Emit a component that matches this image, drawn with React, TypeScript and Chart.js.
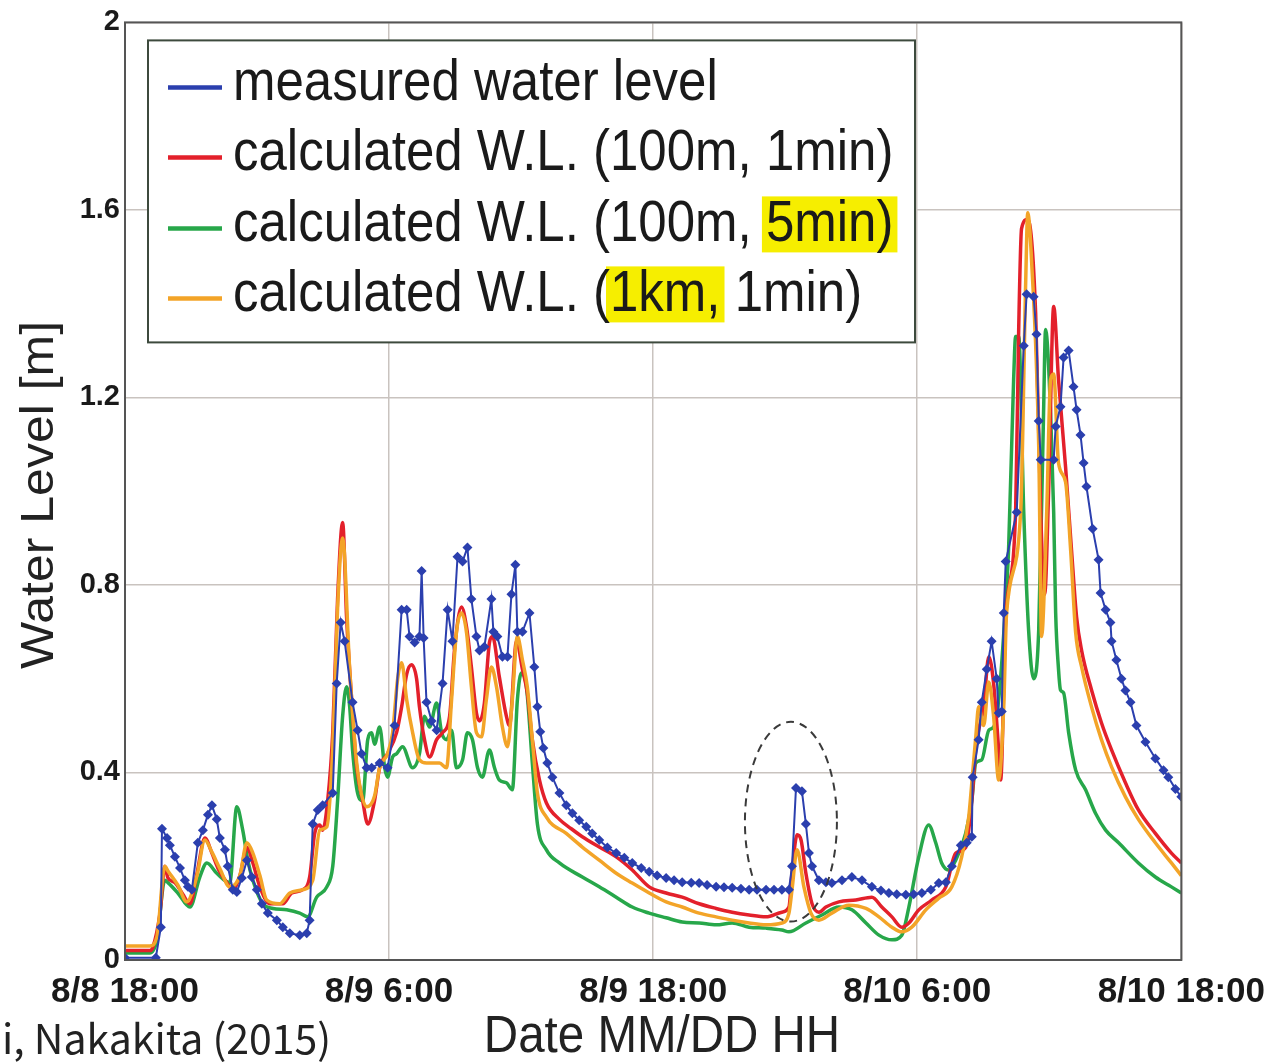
import React, { useEffect, useRef } from "react";
import { Chart, registerables } from "chart.js";

Chart.register(...registerables);

// ---- axis labels ----
const xTickLabels = ["8/8 18:00", "8/9 6:00", "8/9 18:00", "8/10 6:00", "8/10 18:00"];
const yTickLabels = ["0", "0.4", "0.8", "1.2", "1.6", "2"];
const seriesNames = [
  "measured water level",
  "calculated W.L. (100m, 1min)",
  "calculated W.L. (100m, 5min)",
  "calculated W.L. (1km, 1min)",
];
const xTitle = "Date MM/DD HH";
const yTitle = "Water Level [m]";
const credit = "i, Nakakita (2015)";

// ---- data: [hours since 8/8 18:00, water level m] ----
const measured: [number, number][] = [
  [0, 0.005], [1.4, 0.005], [1.63, 0.07], [1.68, 0.28], [1.91, 0.26], [2.04, 0.245], [2.27, 0.22],
  [2.5, 0.196], [2.72, 0.17], [2.86, 0.156], [3.04, 0.15], [3.31, 0.25], [3.54, 0.277], [3.77, 0.31],
  [3.95, 0.33], [4.17, 0.3], [4.31, 0.26], [4.54, 0.235], [4.67, 0.2], [4.9, 0.15], [5.08, 0.145],
  [5.31, 0.175], [5.54, 0.213], [5.76, 0.177], [5.99, 0.15], [6.22, 0.12], [6.49, 0.1], [6.9, 0.085],
  [7.17, 0.07], [7.49, 0.057], [7.94, 0.053], [8.26, 0.057], [8.39, 0.085], [8.53, 0.29], [8.76, 0.32],
  [8.98, 0.33], [9.44, 0.356], [9.62, 0.59], [9.8, 0.72], [9.98, 0.68], [10.34, 0.55], [10.57, 0.49],
  [10.75, 0.44], [10.98, 0.41], [11.21, 0.41], [11.57, 0.42], [11.93, 0.41], [12.25, 0.5], [12.57, 0.747],
  [12.8, 0.747], [12.93, 0.69], [13.16, 0.677], [13.38, 0.69], [13.48, 0.83], [13.57, 0.687], [13.7, 0.55],
  [13.93, 0.51], [14.16, 0.49], [14.43, 0.59], [14.66, 0.747], [14.88, 0.68], [15.11, 0.86], [15.34, 0.85],
  [15.56, 0.88], [15.74, 0.77], [15.97, 0.69], [16.11, 0.66], [16.33, 0.668], [16.65, 0.77], [16.74, 0.7],
  [16.92, 0.69], [17.15, 0.647], [17.38, 0.647], [17.56, 0.78], [17.74, 0.843], [17.83, 0.7], [18.06, 0.7],
  [18.38, 0.74], [18.6, 0.625], [18.74, 0.54], [18.87, 0.487], [19.01, 0.452], [19.19, 0.42], [19.42, 0.39],
  [19.74, 0.356], [20.05, 0.33], [20.33, 0.313], [20.64, 0.298], [20.96, 0.284], [21.23, 0.27], [21.55, 0.256],
  [21.92, 0.24], [22.32, 0.228], [22.69, 0.218], [23.05, 0.207], [23.46, 0.196], [23.82, 0.188], [24.18, 0.18],
  [24.59, 0.175], [24.95, 0.17], [25.32, 0.166], [25.73, 0.165], [26.09, 0.164], [26.45, 0.16], [26.86, 0.156],
  [27.22, 0.155], [27.59, 0.154], [27.99, 0.152], [28.36, 0.15], [28.72, 0.15], [29.13, 0.15], [29.49, 0.15],
  [29.85, 0.15], [30.17, 0.15], [30.31, 0.2], [30.49, 0.367], [30.76, 0.36], [30.94, 0.29], [31.08, 0.228],
  [31.22, 0.2], [31.53, 0.17], [31.85, 0.166], [32.12, 0.164], [32.58, 0.17], [33.03, 0.177], [33.49, 0.17],
  [33.94, 0.156], [34.35, 0.148], [34.71, 0.143], [35.07, 0.14], [35.48, 0.139], [35.84, 0.14], [36.21, 0.143],
  [36.62, 0.15], [36.98, 0.164], [37.3, 0.166], [37.57, 0.2], [37.98, 0.245], [38.25, 0.25], [38.48, 0.263],
  [38.52, 0.39], [38.79, 0.47], [38.93, 0.55], [39.16, 0.62], [39.38, 0.68], [39.61, 0.6], [39.7, 0.527],
  [39.84, 0.53], [39.93, 0.74], [40.02, 0.85], [40.52, 0.955], [40.84, 1.31], [40.97, 1.42], [41.29, 1.415],
  [41.42, 1.335], [41.52, 1.15], [41.61, 1.067], [42.2, 1.067], [42.29, 1.138], [42.51, 1.18], [42.65, 1.285],
  [42.88, 1.3], [43.1, 1.223], [43.24, 1.174], [43.42, 1.12], [43.56, 1.06], [43.69, 1.01], [43.97, 0.92],
  [44.24, 0.854], [44.33, 0.783], [44.56, 0.747], [44.78, 0.72], [44.83, 0.68], [45.05, 0.64], [45.28, 0.6],
  [45.46, 0.575], [45.69, 0.55], [45.96, 0.5], [46.37, 0.465], [46.82, 0.43], [47.19, 0.405], [47.41, 0.39],
  [47.73, 0.365], [48.0, 0.348],
];

const calc100m1min: [number, number][] = [
  [0, 0.02], [1.13, 0.02], [1.27, 0.028], [1.59, 0.1], [1.81, 0.2], [1.95, 0.175], [2.27, 0.165], [2.63, 0.14],
  [2.95, 0.12], [3.27, 0.185], [3.63, 0.26], [3.95, 0.228], [4.22, 0.196], [4.63, 0.165], [4.9, 0.15],
  [5.22, 0.18], [5.54, 0.24], [5.81, 0.207], [6.13, 0.156], [6.58, 0.12], [7.17, 0.12], [7.58, 0.143],
  [8.08, 0.15], [8.39, 0.177], [8.62, 0.27], [8.85, 0.288], [8.98, 0.277], [9.21, 0.34], [9.44, 0.485],
  [9.66, 0.77], [9.89, 0.933], [10.07, 0.73], [10.3, 0.555], [10.53, 0.41], [10.8, 0.34], [11.03, 0.29],
  [11.34, 0.34], [11.57, 0.41], [11.93, 0.44], [12.34, 0.485], [12.57, 0.54], [12.8, 0.61], [13.02, 0.63],
  [13.25, 0.6], [13.38, 0.54], [13.61, 0.47], [13.84, 0.433], [14.16, 0.47], [14.43, 0.485], [14.75, 0.52],
  [14.97, 0.66], [15.29, 0.753], [15.52, 0.71], [15.74, 0.625], [15.97, 0.527], [16.11, 0.51], [16.33, 0.548],
  [16.56, 0.677], [16.7, 0.69], [17.01, 0.604], [17.33, 0.52], [17.47, 0.5], [17.79, 0.68], [18.06, 0.62],
  [18.28, 0.57], [18.51, 0.47], [18.83, 0.385], [19.15, 0.335], [19.74, 0.3], [20.28, 0.28], [20.78, 0.263],
  [21.55, 0.241], [22.32, 0.22], [23.05, 0.192], [23.82, 0.156], [24.59, 0.143], [25.32, 0.134], [26.09, 0.12],
  [26.86, 0.11], [27.59, 0.102], [28.36, 0.096], [29.13, 0.092], [29.85, 0.102], [30.17, 0.113], [30.31, 0.185],
  [30.54, 0.267], [30.72, 0.256], [30.94, 0.185], [31.22, 0.12], [31.53, 0.102], [31.85, 0.113], [32.44, 0.124],
  [33.21, 0.128], [33.94, 0.134], [34.39, 0.113], [34.85, 0.092], [35.3, 0.07], [35.62, 0.079], [36.07, 0.107],
  [36.66, 0.128], [37.3, 0.156], [37.75, 0.228], [38.2, 0.24], [38.48, 0.34], [38.66, 0.45], [38.79, 0.49],
  [39.02, 0.54], [39.25, 0.647], [39.47, 0.59], [39.7, 0.448], [39.79, 0.384], [40.02, 0.73], [40.47, 0.955],
  [40.61, 1.345], [40.74, 1.56], [41.02, 1.58], [41.38, 1.38], [41.61, 0.955], [41.79, 0.78], [41.97, 1.0],
  [42.2, 1.394], [42.42, 1.238], [42.74, 1.052], [43.01, 0.875], [43.24, 0.732], [43.47, 0.66], [43.92, 0.576],
  [44.37, 0.506], [44.83, 0.448], [45.46, 0.378], [46.05, 0.32], [46.82, 0.27], [47.55, 0.228], [48.0, 0.207],
];

const calc100m5min: [number, number][] = [
  [0, 0.015], [1.13, 0.015], [1.45, 0.043], [1.81, 0.17], [1.95, 0.165], [2.4, 0.143], [2.95, 0.113],
  [3.4, 0.177], [3.72, 0.207], [4.17, 0.185], [4.76, 0.165], [5.08, 0.327], [5.35, 0.277], [5.58, 0.213],
  [5.81, 0.17], [6.26, 0.12], [6.72, 0.11], [7.35, 0.107], [7.94, 0.1], [8.3, 0.092], [8.71, 0.134],
  [9.17, 0.156], [9.44, 0.2], [9.66, 0.34], [9.89, 0.52], [10.07, 0.583], [10.21, 0.54], [10.34, 0.448],
  [10.57, 0.356], [10.8, 0.34], [11.03, 0.47], [11.21, 0.485], [11.34, 0.46], [11.57, 0.497], [11.8, 0.41],
  [11.93, 0.39], [12.16, 0.433], [12.34, 0.44], [12.61, 0.455], [13.07, 0.41], [13.38, 0.44], [13.61, 0.52],
  [13.84, 0.497], [14.16, 0.548], [14.39, 0.485], [14.61, 0.47], [14.84, 0.49], [15.06, 0.41], [15.34, 0.427],
  [15.56, 0.485], [15.79, 0.47], [16.02, 0.41], [16.24, 0.39], [16.56, 0.448], [16.79, 0.41], [17.01, 0.384],
  [17.33, 0.378], [17.6, 0.363], [17.83, 0.555], [18.01, 0.612], [18.24, 0.583], [18.51, 0.42], [18.74, 0.29],
  [19.15, 0.235], [19.74, 0.207], [20.78, 0.177], [21.55, 0.156], [22.32, 0.134], [23.05, 0.113], [23.82, 0.1],
  [24.59, 0.09], [25.32, 0.081], [26.09, 0.079], [26.86, 0.075], [27.59, 0.079], [28.36, 0.07], [29.13, 0.068],
  [29.85, 0.064], [30.17, 0.06], [30.94, 0.079], [31.67, 0.096], [32.44, 0.113], [33.03, 0.107], [33.67, 0.079],
  [34.26, 0.053], [34.85, 0.043], [35.3, 0.053], [35.62, 0.113], [36.07, 0.22], [36.52, 0.288], [36.84, 0.25],
  [37.11, 0.207], [37.43, 0.192], [37.75, 0.213], [38.2, 0.27], [38.48, 0.34], [38.66, 0.42], [38.93, 0.427],
  [39.25, 0.49], [39.47, 0.497], [39.7, 0.555], [40.02, 0.762], [40.15, 0.875], [40.38, 1.238], [40.47, 1.33],
  [40.61, 1.33], [40.84, 0.955], [41.06, 0.704], [41.29, 0.6], [41.52, 0.704], [41.74, 1.167], [41.83, 1.345],
  [42.06, 1.167], [42.2, 0.955], [42.29, 0.74], [42.42, 0.62], [42.51, 0.576], [42.65, 0.57], [42.88, 0.485],
  [43.2, 0.405], [43.65, 0.363], [44.1, 0.313], [44.56, 0.277], [45.15, 0.25], [46.05, 0.207], [46.82, 0.177],
  [47.55, 0.156], [48.0, 0.143],
];

const calc1km1min: [number, number][] = [
  [0, 0.03], [1.13, 0.03], [1.45, 0.05], [1.81, 0.2], [1.95, 0.19], [2.4, 0.16], [2.81, 0.124], [3.27, 0.18],
  [3.63, 0.256], [3.95, 0.23], [4.31, 0.195], [4.76, 0.156], [5.22, 0.18], [5.54, 0.25], [5.81, 0.228],
  [6.13, 0.18], [6.44, 0.128], [7.03, 0.12], [7.49, 0.143], [8.08, 0.15], [8.53, 0.17], [8.85, 0.277],
  [9.17, 0.284], [9.44, 0.45], [9.66, 0.75], [9.89, 0.9], [10.21, 0.62], [10.53, 0.42], [10.98, 0.327],
  [11.34, 0.35], [11.57, 0.41], [11.93, 0.44], [12.16, 0.485], [12.39, 0.6], [12.57, 0.634], [12.8, 0.555],
  [13.07, 0.485], [13.38, 0.427], [13.7, 0.42], [14.29, 0.42], [14.61, 0.41], [14.84, 0.555], [15.06, 0.698],
  [15.29, 0.74], [15.52, 0.698], [15.74, 0.583], [15.97, 0.485], [16.2, 0.476], [16.42, 0.555], [16.65, 0.625],
  [16.88, 0.583], [17.15, 0.497], [17.38, 0.455], [17.6, 0.555], [17.83, 0.69], [18.06, 0.64], [18.28, 0.583],
  [18.51, 0.47], [18.74, 0.356], [19.15, 0.305], [20.05, 0.27], [20.78, 0.241], [21.55, 0.213], [22.32, 0.185],
  [23.05, 0.164], [23.82, 0.143], [24.59, 0.124], [25.32, 0.113], [26.09, 0.1], [26.86, 0.092], [27.59, 0.085],
  [28.36, 0.079], [29.13, 0.075], [29.85, 0.079], [30.17, 0.1], [30.31, 0.15], [30.54, 0.235], [30.85, 0.156],
  [31.17, 0.1], [31.53, 0.085], [32.12, 0.1], [32.89, 0.117], [33.67, 0.11], [34.26, 0.092], [34.85, 0.07],
  [35.3, 0.06], [35.75, 0.07], [36.39, 0.107], [36.98, 0.132], [37.57, 0.156], [38.02, 0.22], [38.34, 0.305],
  [38.48, 0.378], [38.66, 0.476], [38.79, 0.54], [39.02, 0.5], [39.25, 0.593], [39.47, 0.52], [39.7, 0.384],
  [39.93, 0.54], [40.06, 0.74], [40.7, 0.955], [40.93, 1.45], [41.02, 1.594], [41.2, 1.488], [41.52, 1.095],
  [41.65, 0.69], [41.88, 0.95], [42.06, 1.238], [42.2, 1.25], [42.42, 1.06], [42.74, 1.02], [42.97, 0.875],
  [43.2, 0.698], [43.47, 0.625], [43.92, 0.54], [44.37, 0.47], [44.83, 0.412], [45.46, 0.348], [46.05, 0.3],
  [46.82, 0.25], [47.55, 0.207], [48.0, 0.18],
];

// dashed ellipse annotation (centre hour, centre level, half-width hours, half-height m)
const ellipseMark = { cx: 30.26, cy: 0.295, rx: 2.09, ry: 0.213 };

const seriesColors = ["#2b3fae", "#e3202b", "#27a74a", "#f3a428"];

const toPoints = (arr: [number, number][]) => arr.map(([x, y]) => ({ x, y }));

const textFont = "'Liberation Sans', Arial, Helvetica, sans-serif";

const framePlugin = {
  id: "frameAndNotes",
  afterDatasetsDraw(chart: any) {
    const { ctx, chartArea, scales } = chart;
    const x = scales.x;
    const y = scales.y;
    ctx.save();
    const cx = x.getPixelForValue(ellipseMark.cx);
    const cy = y.getPixelForValue(ellipseMark.cy);
    const rx = Math.abs(x.getPixelForValue(ellipseMark.cx + ellipseMark.rx) - cx);
    const ry = Math.abs(y.getPixelForValue(ellipseMark.cy + ellipseMark.ry) - cy);
    ctx.beginPath();
    ctx.setLineDash([8, 6]);
    ctx.strokeStyle = "#3a3a3a";
    ctx.lineWidth = 2;
    ctx.ellipse(cx, cy, rx, ry, 0, 0, Math.PI * 2);
    ctx.stroke();
    ctx.setLineDash([]);
    ctx.strokeStyle = "#555555";
    ctx.lineWidth = 2;
    ctx.strokeRect(chartArea.left, chartArea.top, chartArea.right - chartArea.left, chartArea.bottom - chartArea.top);
    ctx.restore();
  },
  afterDraw(chart: any) {
    const { ctx, chartArea } = chart;
    ctx.save();
    const bx = chartArea.left + 23;
    const by = chartArea.top + 18;
    const bw = 767;
    const bh = 302;
    ctx.fillStyle = "#ffffff";
    ctx.fillRect(bx, by, bw, bh);
    ctx.strokeStyle = "#3d4a3d";
    ctx.lineWidth = 2;
    ctx.strokeRect(bx, by, bw, bh);
    ctx.font = `51px ${textFont}`;
    ctx.textBaseline = "middle";
    ctx.textAlign = "left";
    const rowY = [82, 152, 223, 293].map((v) => v - 22 + chartArea.top);
    const tx = bx + 85;
    seriesNames.forEach((name, i) => {
      const ry = rowY[i];
      ctx.strokeStyle = seriesColors[i];
      ctx.lineWidth = 4.5;
      ctx.beginPath();
      ctx.moveTo(bx + 20, ry + 5);
      ctx.lineTo(bx + 74, ry + 5);
      ctx.stroke();
      let hiStart = -1;
      let hiText = "";
      if (i === 2) {
        hiText = "5min)";
        hiStart = name.indexOf(hiText);
      } else if (i === 3) {
        hiText = "1km,";
        hiStart = name.indexOf(hiText);
      }
      if (hiStart >= 0) {
        const pre = ctx.measureText(name.slice(0, hiStart)).width;
        const w = ctx.measureText(hiText).width;
        ctx.fillStyle = "#f6ee00";
        ctx.fillRect(tx + pre - 4, ry - 27, w + 8, 56);
      }
      ctx.fillStyle = "#1a1a1a";
      ctx.save();
      ctx.translate(tx, ry + 2);
      ctx.scale(1, 1.12);
      ctx.fillText(name, 0, 0);
      ctx.restore();
    });
    ctx.fillStyle = "#222222";
    ctx.font = `50px ${textFont}`;
    ctx.textAlign = "center";
    ctx.save();
    ctx.translate(40, 495);
    ctx.rotate(-Math.PI / 2);
    ctx.scale(1, 0.92);
    ctx.fillText(yTitle, 0, 0);
    ctx.restore();
    ctx.save();
    ctx.translate(662, 1038);
    ctx.scale(0.95, 1.05);
    ctx.fillText(xTitle, 0, 0);
    ctx.restore();
    ctx.textAlign = "left";
    ctx.font = `41px 'Noto Sans CJK JP', 'Noto Sans', sans-serif`;
    ctx.fillText(credit, 2, 1038);
    ctx.restore();
  },
};

export default function App() {
  const canvasRef = useRef<HTMLCanvasElement | null>(null);

  useEffect(() => {
    document.body.style.margin = "0";
    const canvas = canvasRef.current;
    if (!canvas) return;
    const chart = new Chart(canvas, {
      type: "line",
      data: {
        datasets: [
          {
            label: seriesNames[0],
            data: toPoints(measured),
            borderColor: seriesColors[0],
            backgroundColor: seriesColors[0],
            borderWidth: 2,
            pointStyle: "rectRot",
            pointRadius: 5,
            pointBorderWidth: 0,
            tension: 0,
            order: 0,
          },
          {
            label: seriesNames[3],
            data: toPoints(calc1km1min),
            borderColor: seriesColors[3],
            borderWidth: 3.5,
            pointRadius: 0,
            cubicInterpolationMode: "monotone",
            order: 1,
          },
          {
            label: seriesNames[1],
            data: toPoints(calc100m1min),
            borderColor: seriesColors[1],
            borderWidth: 3.5,
            pointRadius: 0,
            cubicInterpolationMode: "monotone",
            order: 2,
          },
          {
            label: seriesNames[2],
            data: toPoints(calc100m5min),
            borderColor: seriesColors[2],
            borderWidth: 3.5,
            pointRadius: 0,
            cubicInterpolationMode: "monotone",
            order: 3,
          },
        ],
      },
      options: {
        responsive: false,
        animation: false,
        layout: { padding: { top: 22, right: 93, left: 0, bottom: 0 } },
        plugins: { legend: { display: false }, tooltip: { enabled: false } },
        scales: {
          x: {
            type: "linear",
            min: 0,
            max: 48,
            afterFit: (scale: any) => {
              scale.height = 102;
            },
            ticks: {
              stepSize: 12,
              autoSkip: false,
              maxRotation: 0,
              padding: 11,
              color: "#1a1a1a",
              font: { family: "'Liberation Sans', Arial, sans-serif", size: 35, weight: "bold" },
              callback: (v: any) => xTickLabels[Math.round(Number(v) / 12)] ?? "",
            },
            grid: { color: "#c9c3bf", lineWidth: 1.5, drawTicks: false },
            border: { display: false },
          },
          y: {
            min: 0,
            max: 2,
            afterFit: (scale: any) => {
              scale.width = 125;
            },
            ticks: {
              stepSize: 0.4,
              padding: 5,
              color: "#1a1a1a",
              font: { family: "'Liberation Sans', Arial, sans-serif", size: 29, weight: "bold" },
              callback: (v: any) => yTickLabels[Math.round(Number(v) / 0.4)] ?? "",
            },
            grid: { color: "#c9c3bf", lineWidth: 1.5, drawTicks: false },
            border: { display: false },
          },
        },
      },
      plugins: [framePlugin],
    });
    return () => chart.destroy();
  }, []);

  return <canvas ref={canvasRef} width={1276} height={1062} style={{ display: "block" }} />;
}
